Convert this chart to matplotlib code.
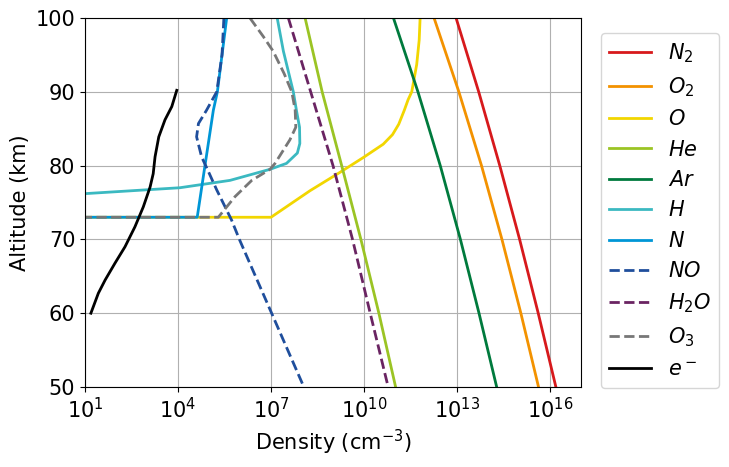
import numpy as np
import matplotlib
matplotlib.use('Agg')
import matplotlib.pyplot as plt

# altitude (km) and log10 density (cm^-3)
alt_n2 = [100, 90, 80, 70, 60, 50]
n2 = [12.97, 13.70, 14.38, 15.02, 15.62, 16.19]

alt_o2 = [100, 90, 80, 70, 60, 50]
o2 = [12.26, 13.06, 13.79, 14.45, 15.06, 15.63]

alt_o = [100, 97, 93.7, 90, 88.9, 87.5, 85.6, 84.2, 82.9, 81.1, 79.1, 76.6, 73.0, 73.0]
o = [11.81, 11.78, 11.70, 11.54, 11.42, 11.30, 11.12, 10.92, 10.62, 9.98, 9.23, 8.26, 7.0, -3]

alt_he = [100, 90, 80, 70, 60, 50]
he = [8.10, 8.65, 9.28, 9.90, 10.48, 11.02]

alt_ar = [100, 90, 80, 70, 60, 50]
ar = [10.95, 11.74, 12.46, 13.11, 13.71, 14.28]

alt_h = [100, 95.5, 90, 87.5, 85.2, 83.0, 81.7, 80.3, 79.5, 78.0, 77.0, 76.2, 75.9]
h = [7.2, 7.40, 7.72, 7.82, 7.92, 7.93, 7.85, 7.5, 6.97, 5.68, 4.06, 1.0, 0.0]

alt_n = [100, 90, 87.5, 80, 73.0, 73.0]
n = [5.57, 5.27, 5.14, 4.87, 4.62, -3]

alt_no = [100, 95, 90, 87.5, 85.7, 83.9, 81.2, 79.2, 76.7, 74.4, 72.6, 70, 60, 50]
no = [5.48, 5.42, 5.25, 4.92, 4.66, 4.60, 4.76, 4.98, 5.25, 5.52, 5.73, 5.98, 7.02, 8.06]

alt_h2o = [100, 90, 80, 70, 60, 50]
h2o = [7.56, 8.28, 9.0, 9.63, 10.2, 10.78]

alt_o3 = [100, 97.5, 95.5, 92.5, 90, 87.5, 85.2, 83.5, 80.3, 79.5, 78.0, 75.8, 73.0, 73.0]
o3 = [6.32, 6.75, 7.07, 7.42, 7.67, 7.78, 7.80, 7.61, 7.13, 6.97, 6.38, 5.84, 5.30, -3]

alt_e = [90.2, 88.0, 86.2, 83.9, 81.2, 78.9, 77.1, 74.4, 71.7, 69.0, 66.8, 64.5, 62.7, 60]
e = [3.96, 3.80, 3.58, 3.38, 3.26, 3.2, 3.1, 2.88, 2.61, 2.29, 1.97, 1.65, 1.43, 1.19]

series = [
    (n2, alt_n2, '$N_2$', '#d7191c', '-'),
    (o2, alt_o2, '$O_2$', '#f39200', '-'),
    (o, alt_o, '$O$', '#f2d600', '-'),
    (he, alt_he, '$He$', '#9bc424', '-'),
    (ar, alt_ar, '$Ar$', '#007a3d', '-'),
    (h, alt_h, '$H$', '#3bb9c1', '-'),
    (n, alt_n, '$N$', '#0096d6', '-'),
    (no, alt_no, '$NO$', '#1f4e9c', '--'),
    (h2o, alt_h2o, '$H_2O$', '#6a2462', '--'),
    (o3, alt_o3, '$O_3$', '#777777', '--'),
    (e, alt_e, '$e^-$', 'black', '-'),
]

fig = plt.figure(figsize=(7.29, 4.67), dpi=100)
ax = fig.add_axes([85/729, 1-387/467, 496/729, 369/467])

for logd, alt, lab, col, ls in series:
    ax.plot(10**np.array(logd), alt, ls, color=col, lw=2, label=lab)

ax.set_xscale('log')
ax.set_xlim(1e1, 1e17)
ax.set_ylim(50, 100)
ax.set_xticks([1e1, 1e4, 1e7, 1e10, 1e13, 1e16])
ax.xaxis.set_minor_locator(matplotlib.ticker.NullLocator())
ax.set_yticks([50, 60, 70, 80, 90, 100])
ax.tick_params(labelsize=15)
ax.grid(True)
ax.set_xlabel('Density (cm$^{-3}$)', fontsize=15)
ax.set_ylabel('Altitude (km)', fontsize=15)
ax.legend(loc='upper left', bbox_to_anchor=(1.04, 0.96), borderaxespad=0, fontsize=15)

fig.savefig('out.png', dpi=100)
